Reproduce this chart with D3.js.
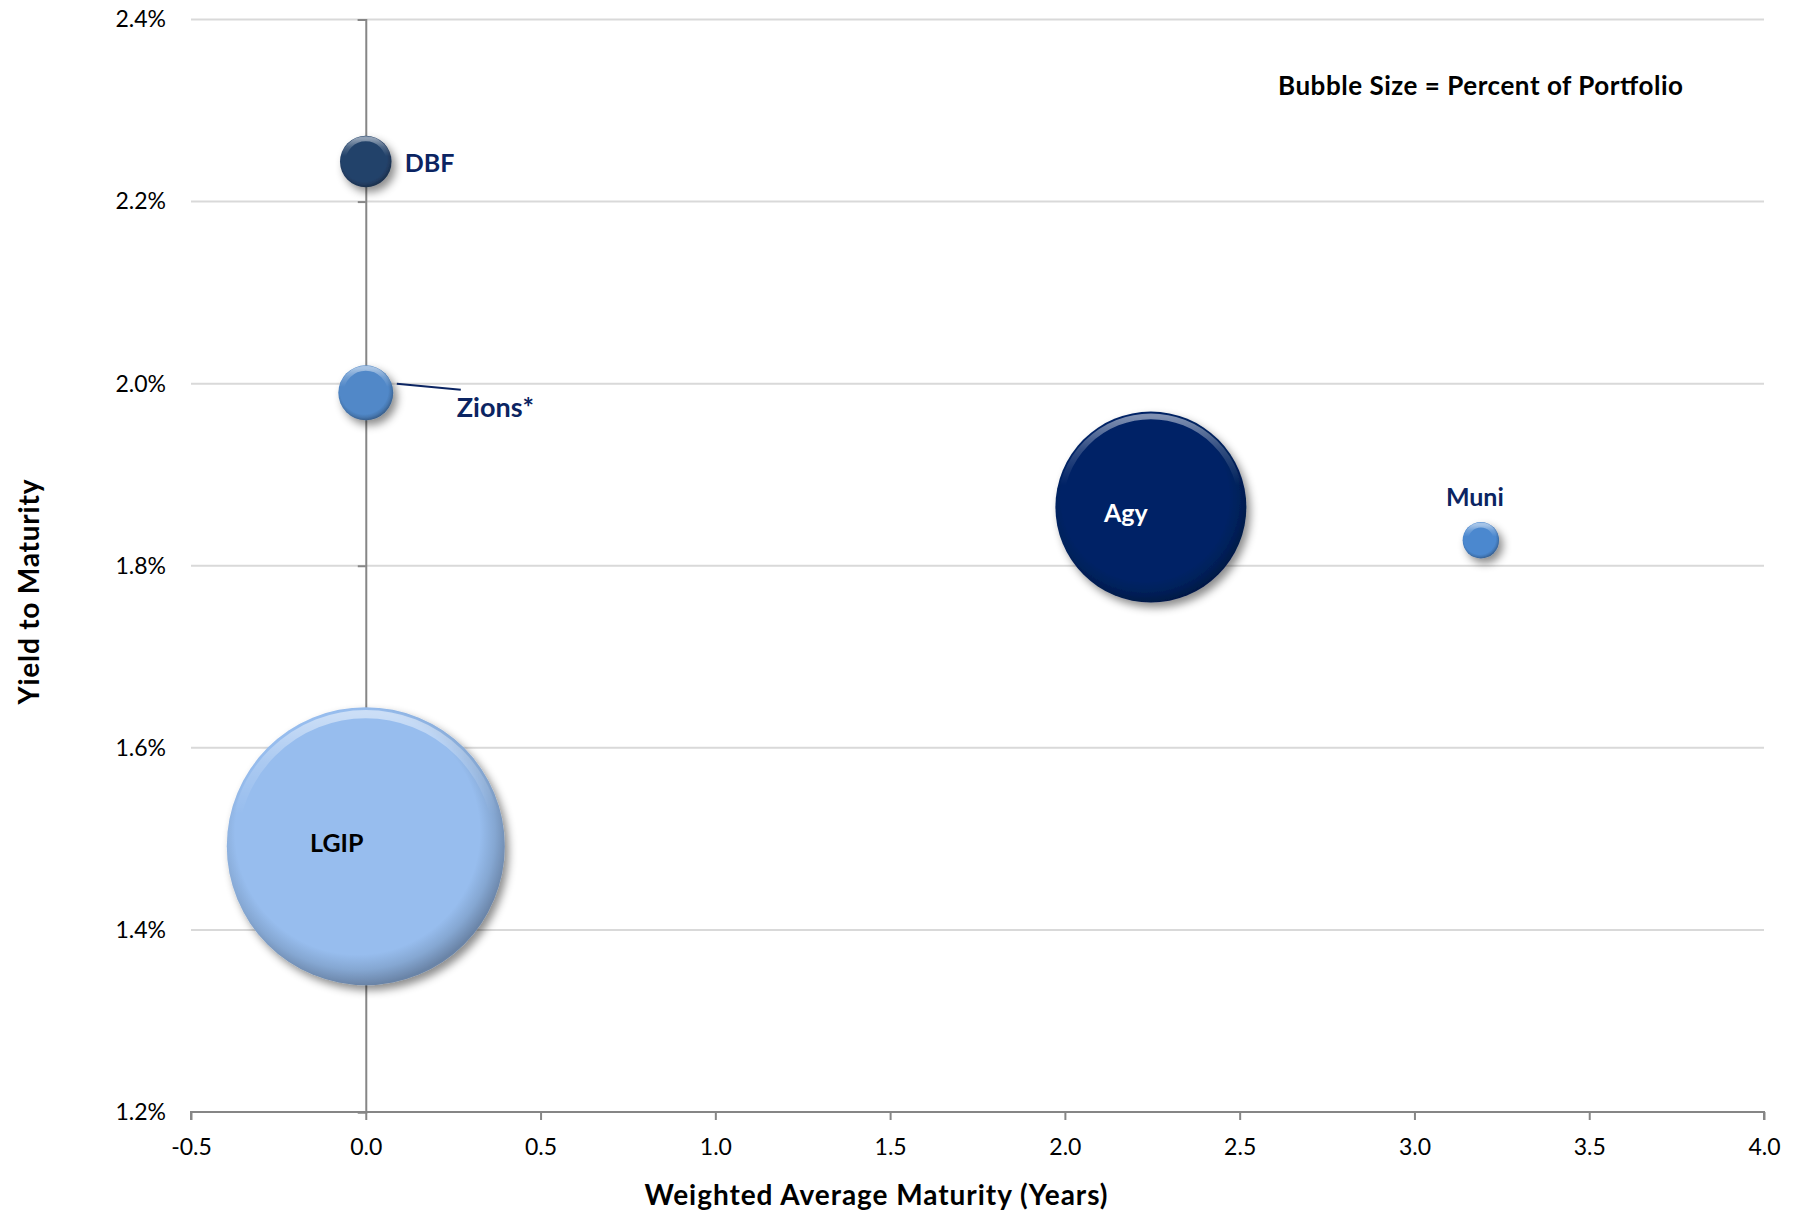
<!DOCTYPE html>
<html>
<head>
<meta charset="utf-8">
<script src="https://cdn.jsdelivr.net/npm/d3@7"></script>
<style>
  html, body { margin: 0; padding: 0; background: #ffffff; }
  svg { display: block; }
  text { font-family: Lato, "Open Sans", "DejaVu Sans", sans-serif; }
</style>
</head>
<body>
<svg id="chart" width="1800" height="1214"></svg>
<script>
// Holdings: weighted average maturity (years), yield (%), share of portfolio (%)
const categories = ["DBF", "Zions*", "LGIP", "Agy", "Muni"];
const maturity   = [0.00, 0.00, 0.00, 2.246, 3.19];
const yieldPct   = [2.244, 1.99, 1.492, 1.8645, 1.828];
const portfolio  = [2.2, 2.5, 64.0, 30.2, 1.1];

const xTicks = [-0.5, 0.0, 0.5, 1.0, 1.5, 2.0, 2.5, 3.0, 3.5, 4.0];
const yTicks = [1.2, 1.4, 1.6, 1.8, 2.0, 2.2, 2.4];

// Styling per bubble
const bubbleColors = ["#24426a", "#5188c8", "#97bdee", "#062466", "#4b88cf"];
const labelColors  = ["#0b2462", "#0b2462", "#000000", "#ffffff", "#0b2462"];
// label placement relative to the bubble centre: [dx, dy, anchor]
const labelPlacement = [
  [39, 0, "start"],
  [91, 14, "start"],
  [-29, -4, "middle"],
  [-25, 5, "middle"],
  [-6, -44, "middle"]
];

const svg = d3.select("#chart");
const plot = { left: 191, right: 1764, top: 19.5, bottom: 1112 };

const x = d3.scaleLinear().domain([-0.5, 4.0]).range([plot.left, plot.right]);
const y = d3.scaleLinear().domain([1.2, 2.4]).range([plot.bottom, plot.top]);
const r = d3.scaleSqrt().domain([0, d3.max(portfolio)]).range([0, 139]);

const data = categories.map((name, i) => ({
  name, x: maturity[i], y: yieldPct[i], size: portfolio[i],
  color: bubbleColors[i], labelColor: labelColors[i], place: labelPlacement[i], i
}));

const defs = svg.append("defs");

// soft drop shadow beneath each bubble
const shadow = defs.append("filter").attr("id", "bubbleShadow")
  .attr("x", "-30%").attr("y", "-30%").attr("width", "170%").attr("height", "170%");
shadow.append("feDropShadow")
  .attr("dx", 4).attr("dy", 5).attr("stdDeviation", 4)
  .attr("flood-color", "#000").attr("flood-opacity", 0.45);

// gradients giving the bevelled look
data.forEach(d => {
  const base = d3.color(d.color);
  const g = defs.append("radialGradient").attr("id", "fill" + d.i)
    .attr("cx", "47%").attr("cy", "45%").attr("r", "55%");
  g.append("stop").attr("offset", "0%").attr("stop-color", base.formatHex());
  g.append("stop").attr("offset", "80%").attr("stop-color", base.formatHex());
  g.append("stop").attr("offset", "90%").attr("stop-color", base.darker(0.35).formatHex());
  g.append("stop").attr("offset", "100%").attr("stop-color", base.darker(1.0).formatHex());

  const h = defs.append("linearGradient").attr("id", "hl" + d.i)
    .attr("x1", 0).attr("y1", 0).attr("x2", 0).attr("y2", 1);
  h.append("stop").attr("offset", "0%").attr("stop-color", "#fff").attr("stop-opacity", 0.5);
  h.append("stop").attr("offset", "18%").attr("stop-color", "#fff").attr("stop-opacity", 0.2);
  h.append("stop").attr("offset", "38%").attr("stop-color", "#fff").attr("stop-opacity", 0);
  h.append("stop").attr("offset", "100%").attr("stop-color", "#fff").attr("stop-opacity", 0);
});

// horizontal gridlines
svg.append("g").selectAll("line").data(yTicks.filter(t => t > 1.2)).join("line")
  .attr("x1", plot.left).attr("x2", plot.right)
  .attr("y1", d => y(d)).attr("y2", d => y(d))
  .attr("stroke", "#d9d9d9").attr("stroke-width", 2);

// value axis crossing at zero maturity (ticks only)
const yAxisLine = svg.append("g").attr("transform", `translate(${x(0)},0)`)
  .call(d3.axisLeft(y).tickValues(yTicks).tickSize(8).tickFormat(""));
yAxisLine.select(".domain").attr("stroke", "#868686").attr("stroke-width", 2);
yAxisLine.selectAll(".tick line").attr("stroke", "#868686").attr("stroke-width", 2);

// value axis labels at the left edge of the plot
const yLabels = svg.append("g").attr("transform", `translate(${plot.left},0)`)
  .call(d3.axisLeft(y).tickValues(yTicks).tickSize(0).tickPadding(25)
    .tickFormat(d => d.toFixed(1) + "%"));
yLabels.select(".domain").remove();
yLabels.selectAll("text").attr("font-size", 23).attr("fill", "#000")
  .style("font-family", "Lato, sans-serif");

// category axis along the bottom
const xAxis = svg.append("g").attr("transform", `translate(0,${plot.bottom})`)
  .call(d3.axisBottom(x).tickValues(xTicks).tickSize(8).tickPadding(19)
    .tickFormat(d => d.toFixed(1)));
xAxis.select(".domain").attr("stroke", "#868686").attr("stroke-width", 2)
  .attr("d", `M${plot.left},8V0H${plot.right}V8`);
xAxis.selectAll(".tick line").attr("stroke", "#868686").attr("stroke-width", 2);
xAxis.selectAll("text").attr("font-size", 23).attr("fill", "#000")
  .style("font-family", "Lato, sans-serif");

// bubbles
const bubbles = svg.append("g").selectAll("g").data(data).join("g")
  .attr("transform", d => `translate(${x(d.x)},${y(d.y)})`);

bubbles.append("circle").attr("r", d => r(d.size))
  .attr("fill", d => `url(#fill${d.i})`).attr("filter", "url(#bubbleShadow)");
bubbles.append("circle")
  .attr("r", d => r(d.size) - Math.max(3, r(d.size) * 0.05))
  .attr("fill", "none")
  .attr("stroke", d => `url(#hl${d.i})`)
  .attr("stroke-width", d => Math.max(5, r(d.size) * 0.06));

// leader line for Zions*
const zi = categories.indexOf("Zions*");
svg.append("line")
  .attr("x1", x(maturity[zi]) + 31).attr("y1", y(yieldPct[zi]) - 9)
  .attr("x2", x(maturity[zi]) + 95).attr("y2", y(yieldPct[zi]) - 3)
  .attr("stroke", "#0b2462").attr("stroke-width", 2);

// data labels
svg.append("g").selectAll("text").data(data).join("text")
  .attr("x", d => x(d.x) + d.place[0])
  .attr("y", d => y(d.y) + d.place[1])
  .attr("text-anchor", d => d.place[2])
  .attr("dominant-baseline", "central")
  .attr("font-size", d => d.name === "Zions*" ? 27 : 25).attr("font-weight", 700)
  .attr("fill", d => d.labelColor)
  .text(d => d.name);

// bubble size note
svg.append("text").attr("x", 1278).attr("y", 85)
  .attr("dominant-baseline", "central")
  .attr("font-size", 26).attr("font-weight", 700).attr("fill", "#000")
  .attr("textLength", 405)
  .text("Bubble Size = Percent of Portfolio");

// axis titles
svg.append("text").attr("x", 876).attr("y", 1194)
  .attr("text-anchor", "middle").attr("dominant-baseline", "central")
  .attr("font-size", 28).attr("font-weight", 700).attr("fill", "#000")
  .attr("textLength", 463)
  .text("Weighted Average Maturity (Years)");

svg.append("text").attr("transform", "translate(28,592) rotate(-90)")
  .attr("text-anchor", "middle").attr("dominant-baseline", "central")
  .attr("font-size", 28).attr("font-weight", 700).attr("fill", "#000")
  .attr("textLength", 225)
  .text("Yield to Maturity");
</script>
</body>
</html>
